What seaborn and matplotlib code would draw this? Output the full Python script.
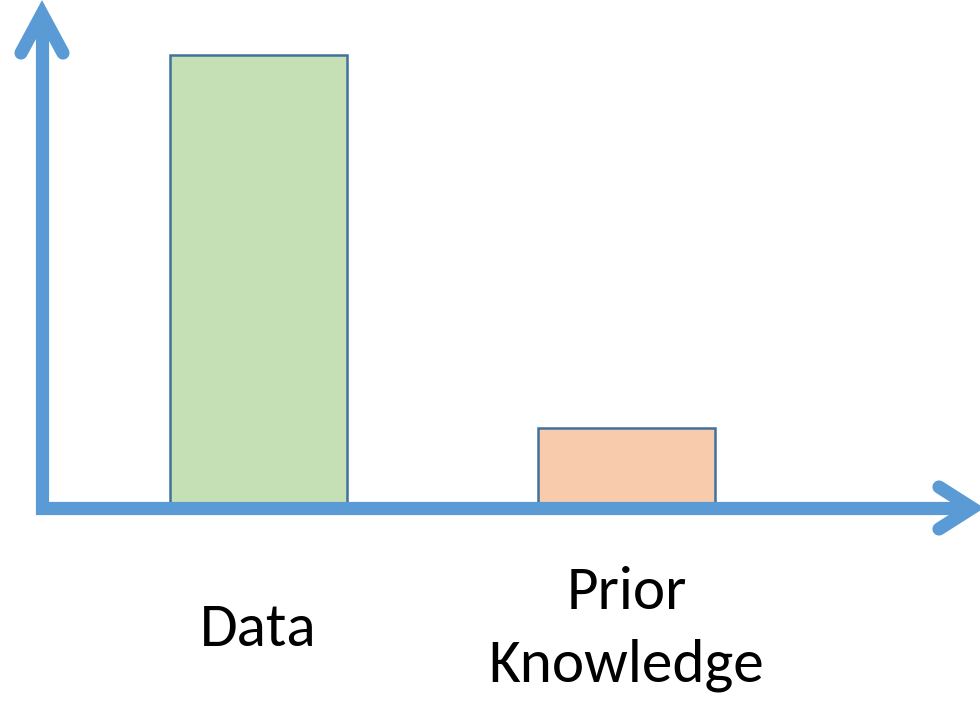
import matplotlib
matplotlib.use("Agg")
import matplotlib.pyplot as plt
from matplotlib.lines import Line2D
import seaborn as sns
import pandas as pd

# ---- data ----
categories = ["Data", "Prior\nKnowledge"]
values = [6.0, 1.0]
bar_colors = ["#C5E0B4", "#F8CBAD"]

sns.set_theme(style="white")
plt.rcParams["font.family"] = ["Carlito", "Lato", "DejaVu Sans"]

W, H = 980, 701
fig = plt.figure(figsize=(W / 100, H / 100), dpi=100)

def fx(x):
    return x / W

def fy(y):
    return 1 - y / H

# axes placed so its lower-left corner meets the drawn arrows
ax_left, ax_bottom = 42, 508
ax = fig.add_axes([fx(ax_left), fy(ax_bottom), 1 - fx(ax_left), ax_bottom / H])

df = pd.DataFrame({"cat": categories, "val": values})
sns.barplot(data=df, x="cat", y="val", hue="cat", palette=bar_colors,
            width=0.48, edgecolor="#41719C", linewidth=1.8, legend=False, ax=ax,
            saturation=1)

unit = 368.0
ax.set_xlim((ax_left - 258.5) / unit, (W - 258.5) / unit)
ypu = 448 / 6.0
ax.set_ylim(-(ax_bottom - 503) / ypu, 503 / ypu)

for s in ax.spines.values():
    s.set_visible(False)
ax.set_yticks([])
ax.set_xlabel("")
ax.set_ylabel("")
ax.tick_params(axis="x", length=0, pad=(629 - ax_bottom) * 0.72, labelsize=44,
               labelcolor="black")
for lbl in ax.get_xticklabels():
    lbl.set_verticalalignment("center")
    lbl.set_linespacing(1.45)
    lbl.set_color("black")
ax.patch.set_alpha(0)

# ---- arrows (axes decoration) ----
blue = "#5B9BD5"
lw = 9.5

def seg(pts, cap="round"):
    xs = [fx(p[0]) for p in pts]
    ys = [fy(p[1]) for p in pts]
    fig.add_artist(Line2D(xs, ys, transform=fig.transFigure, color=blue, lw=lw,
                          solid_capstyle=cap, solid_joinstyle="miter", zorder=5))

# axis lines with a square corner
seg([(42, 14), (42, 508), (972, 508)], cap="butt")
seg([(42, 508), (42, 508)], cap="projecting")
# y arrowhead
seg([(21, 53), (42, 14), (63, 53)])
# x arrowhead
seg([(939, 487), (972, 508), (939, 529)])

fig.savefig("out.png", dpi=100)
